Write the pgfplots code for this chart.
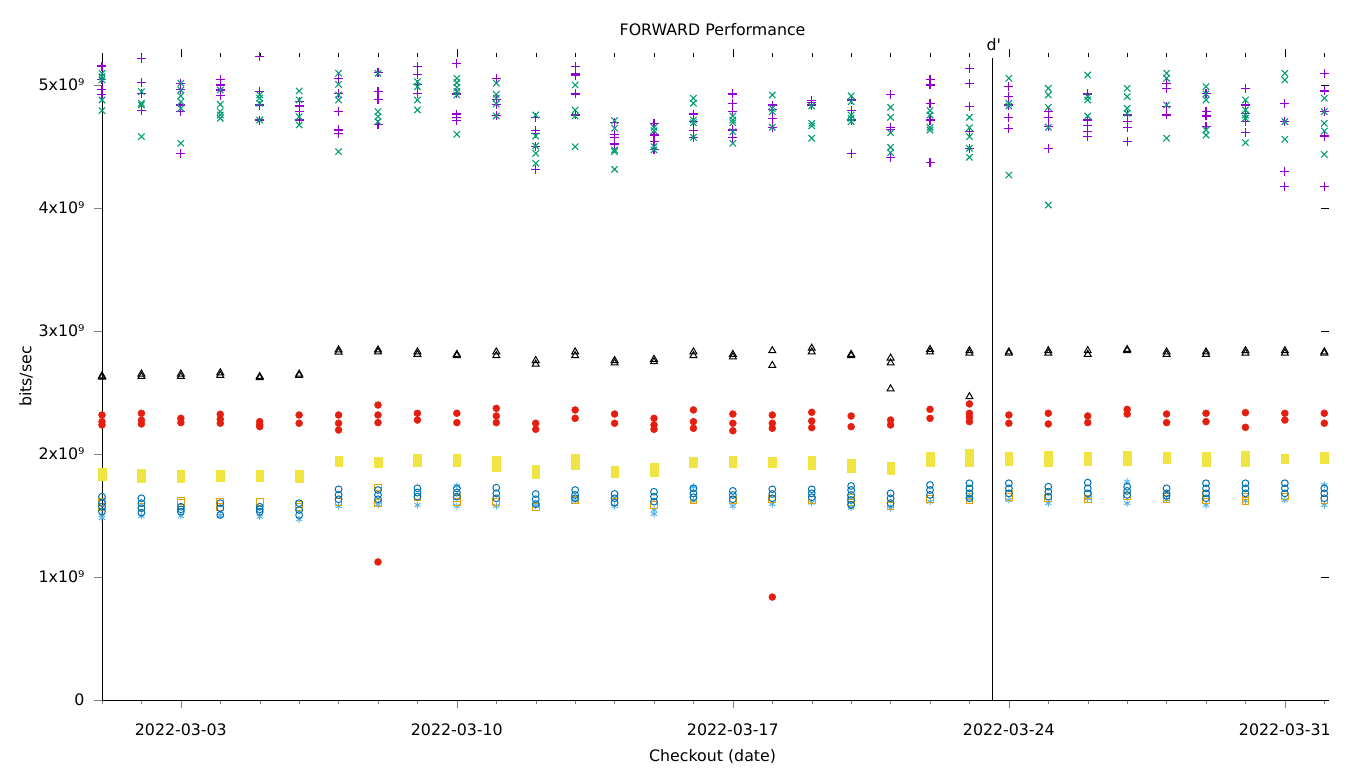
\documentclass[border=0pt]{standalone}
\usepackage{fontspec}
\setmainfont{DejaVu Sans}
\usepackage{pgfplots}
\pgfplotsset{compat=1.18}

\definecolor{gpPurple}{HTML}{9400D3}
\definecolor{gpGreen}{HTML}{009E73}
\definecolor{gpSky}{HTML}{56B4E9}
\definecolor{gpOrange}{HTML}{E69F00}
\definecolor{gpYellow}{HTML}{F0E442}
\definecolor{gpBlue}{HTML}{0072B2}
\definecolor{gpRed}{HTML}{E51E10}

\begin{document}
\begin{tikzpicture}[font=\fontsize{15.8}{19}\selectfont]
% fix the page to 1360 x 768 around the plot box
\path[use as bounding box] (-102pt,-68pt) rectangle (1258pt,700pt);
\begin{axis}[
  at={(0,0)}, anchor=south west,
  scale only axis,
  width=1227pt, height=647pt,
  xmin=1, xmax=32.12,
  ymin=0, ymax=5.26,
  axis x line*=bottom,
  axis y line*=left,
  tick pos=left,
  tick align=outside,
  major tick length=8pt,
  minor tick length=4pt,
  xtick={3,10,17,24,31},
  xticklabels={2022-03-03,2022-03-10,2022-03-17,2022-03-24,2022-03-31},
  minor xtick={1,...,32},
  ytick={0,1,2,3,4,5},
  yticklabels={0,1x10⁹,2x10⁹,3x10⁹,4x10⁹,5x10⁹},
  xticklabel style={yshift=-12pt},
  yticklabel style={xshift=-6pt},
  clip=false,
  only marks,
]

% --- purple +
\addplot[gpPurple, mark=+, mark size=4.5pt, line width=1.1pt] coordinates {
 (1,5.154) (1,5.046) (1,4.965) (1,4.919)
 (2,5.217) (2,5.019) (2,4.933) (2,4.791)
 (3,5.014) (3,4.965) (3,4.837) (3,4.783) (3,4.445)
 (4,5.046) (4,5.000) (4,4.959) (4,4.911)
 (5,5.230) (5,4.946) (5,4.837) (5,4.715)
 (6,4.864) (6,4.829) (6,4.783) (6,4.715)
 (7,5.054) (7,4.933) (7,4.783) (7,4.634) (7,4.602)
 (8,5.100) (8,4.946) (8,4.884) (8,4.675)
 (9,5.149) (9,5.087) (9,5.005) (9,4.933)
 (10,5.171) (10,4.927) (10,4.764) (10,4.737) (10,4.710)
 (11,5.054) (11,4.884) (11,4.843) (11,4.750)
 (12,4.734) (12,4.628) (12,4.607) (12,4.498) (12,4.314)
 (13,5.149) (13,5.095) (13,5.081) (13,4.927) (13,4.756)
 (14,4.693) (14,4.599) (14,4.572) (14,4.520)
 (15,4.688) (15,4.593) (15,4.539) (15,4.472)
 (16,4.764) (16,4.702) (16,4.628) (16,4.575)
 (17,4.927) (17,4.846) (17,4.783) (17,4.634) (17,4.575)
 (18,4.837) (18,4.797) (18,4.729) (18,4.656)
 (19,4.873) (19,4.856) (19,4.837)
 (20,4.878) (20,4.791) (20,4.715) (20,4.445)
 (21,4.919) (21,4.656) (21,4.640) (21,4.412)
 (22,5.041) (22,5.000) (22,4.846) (22,4.715) (22,4.368)
 (23,5.136) (23,5.014) (23,4.824) (23,4.620) (23,4.485)
 (24,4.986) (24,4.905) (24,4.837) (24,4.737) (24,4.648)
 (25,4.783) (25,4.737) (25,4.661) (25,4.485)
 (26,4.927) (26,4.715) (26,4.667) (26,4.620) (26,4.580)
 (27,4.756) (27,4.702) (27,4.653) (27,4.539)
 (28,5.014) (28,4.973) (28,4.824) (28,4.756)
 (29,4.933) (29,4.783) (29,4.748) (29,4.661)
 (30,4.973) (30,4.837) (30,4.770) (30,4.702) (30,4.612)
 (31,4.846) (31,4.702) (31,4.295) (31,4.173)
 (32,5.095) (32,4.951) (32,4.783) (32,4.585) (32,4.173)
};

% --- green x
\addplot[gpGreen, mark=x, mark size=4.5pt, line width=1.1pt] coordinates {
 (1,5.095) (1,5.067) (1,5.041) (1,4.878) (1,4.791)
 (2,4.946) (2,4.851) (2,4.837) (2,4.580)
 (3,5.014) (3,4.959) (3,4.911) (3,4.864) (3,4.810) (3,4.526)
 (4,4.959) (4,4.843) (4,4.783) (4,4.756) (4,4.729)
 (5,4.919) (5,4.892) (5,4.851) (5,4.715)
 (6,4.951) (6,4.878) (6,4.742) (6,4.675)
 (7,5.095) (7,5.005) (7,4.919) (7,4.878) (7,4.458)
 (8,5.095) (8,4.783) (8,4.742) (8,4.702)
 (9,5.027) (9,4.986) (9,4.878) (9,4.797)
 (10,5.054) (10,5.019) (10,4.981) (10,4.946) (10,4.919) (10,4.599)
 (11,5.014) (11,4.924) (11,4.892) (11,4.846) (11,4.748)
 (12,4.756) (12,4.585) (12,4.504) (12,4.444) (12,4.363)
 (13,5.000) (13,4.797) (13,4.748) (13,4.498)
 (14,4.710) (14,4.648) (14,4.472) (14,4.458) (14,4.314)
 (15,4.656) (15,4.628) (15,4.498) (15,4.472)
 (16,4.892) (16,4.851) (16,4.715) (16,4.693) (16,4.575)
 (17,4.748) (17,4.715) (17,4.693) (17,4.620) (17,4.526)
 (18,4.919) (18,4.810) (18,4.783) (18,4.656)
 (19,4.829) (19,4.688) (19,4.667) (19,4.567)
 (20,4.911) (20,4.864) (20,4.756) (20,4.729) (20,4.702)
 (21,4.818) (21,4.737) (21,4.612) (21,4.493) (21,4.450)
 (22,4.791) (22,4.756) (22,4.656) (22,4.634)
 (23,4.737) (23,4.653) (23,4.580) (23,4.485) (23,4.412)
 (24,5.054) (24,4.851) (24,4.829) (24,4.268)
 (25,4.973) (25,4.919) (25,4.818) (25,4.656) (25,4.024)
 (26,5.081) (26,4.905) (26,4.878) (26,4.748)
 (27,4.973) (27,4.905) (27,4.810) (27,4.770)
 (28,5.095) (28,5.054) (28,4.837) (28,4.567)
 (29,4.986) (29,4.927) (29,4.878) (29,4.634) (29,4.593)
 (30,4.878) (30,4.797) (30,4.756) (30,4.729) (30,4.531)
 (31,5.095) (31,5.041) (31,4.702) (31,4.558)
 (32,4.892) (32,4.783) (32,4.688) (32,4.626) (32,4.436)
};

% --- black triangles
\addplot[black, mark=triangle, mark size=4pt, line width=1pt] coordinates {
 (1,2.635) (1,2.629) (1,2.625) (2,2.65) (2,2.63) (3,2.65) (3,2.63)
 (4,2.66) (4,2.64) (5,2.63) (5,2.62) (6,2.65) (6,2.64)
 (7,2.846) (7,2.829) (8,2.846) (8,2.830) (9,2.83) (9,2.81)
 (10,2.81) (10,2.80) (11,2.83) (11,2.80) (12,2.76) (12,2.73)
 (13,2.83) (13,2.80) (14,2.76) (14,2.74) (15,2.77) (15,2.75)
 (16,2.83) (16,2.80) (17,2.81) (17,2.79) (18,2.84) (18,2.72)
 (19,2.86) (19,2.83) (20,2.81) (20,2.80) (21,2.78) (21,2.74) (21,2.53)
 (22,2.85) (22,2.83) (23,2.84) (23,2.82) (23,2.466)
 (24,2.83) (24,2.82) (25,2.84) (25,2.82) (26,2.84) (26,2.81)
 (27,2.85) (27,2.84) (28,2.83) (28,2.81) (29,2.83) (29,2.81)
 (30,2.84) (30,2.82) (31,2.84) (31,2.82) (32,2.83) (32,2.82)
};

% --- red dots
\addplot[gpRed, mark=*, mark size=3.5pt, mark options={fill=gpRed}] coordinates {
 (1,2.317) (1,2.263) (1,2.236) (2,2.331) (2,2.276) (2,2.244)
 (3,2.290) (3,2.255) (4,2.323) (4,2.282) (4,2.250) (5,2.263) (5,2.240) (5,2.222)
 (6,2.317) (6,2.250) (7,2.317) (7,2.250) (7,2.195)
 (8,2.398) (8,2.317) (8,2.255) (8,1.122)
 (9,2.331) (9,2.276) (10,2.331) (10,2.255)
 (11,2.371) (11,2.309) (11,2.255) (12,2.250) (12,2.201)
 (13,2.358) (13,2.290) (14,2.325) (14,2.250)
 (15,2.290) (15,2.236) (15,2.201) (16,2.358) (16,2.263) (16,2.209)
 (17,2.325) (17,2.250) (17,2.189) (18,2.317) (18,2.250) (18,2.209) (18,0.837)
 (19,2.339) (19,2.268) (19,2.214) (20,2.309) (20,2.222)
 (21,2.276) (21,2.236) (22,2.363) (22,2.290)
 (23,2.407) (23,2.331) (23,2.300) (23,2.263)
 (24,2.317) (24,2.250) (25,2.331) (25,2.244) (26,2.309) (26,2.255)
 (27,2.363) (27,2.325) (28,2.325) (28,2.255) (29,2.331) (29,2.263)
 (30,2.336) (30,2.217) (31,2.331) (31,2.276) (32,2.331) (32,2.250)
};

% --- yellow squares
\addplot[gpYellow, mark=square*, mark size=3.8pt, mark options={fill=gpYellow}] coordinates {
 (1,1.85) (1,1.82) (2,1.846) (2,1.80) (3,1.84) (3,1.805)
 (4,1.84) (4,1.81) (5,1.84) (5,1.81) (6,1.84) (6,1.805)
 (7,1.951) (7,1.93) (8,1.945) (8,1.925) (9,1.97) (9,1.93)
 (10,1.965) (10,1.93) (11,1.95) (11,1.89) (12,1.88) (12,1.83)
 (13,1.97) (13,1.905) (14,1.87) (14,1.84) (15,1.895) (15,1.85)
 (16,1.945) (16,1.925) (17,1.95) (17,1.925) (18,1.945) (18,1.925)
 (19,1.95) (19,1.905) (20,1.93) (20,1.885) (21,1.90) (21,1.865)
 (22,1.98) (22,1.93) (23,2.01) (23,1.97) (23,1.93)
 (24,1.98) (24,1.94) (25,1.99) (25,1.935) (26,1.98) (26,1.94)
 (27,1.99) (27,1.94) (28,1.985) (28,1.96) (29,1.98) (29,1.93)
 (30,1.99) (30,1.935) (31,1.97) (31,1.96) (32,1.98) (32,1.96)
};

% --- light blue asterisks
\addplot[gpSky, mark=asterisk, mark size=3.5pt, line width=1pt] coordinates {
 (1,1.504) (1,1.48) (2,1.496) (3,1.496) (4,1.50) (5,1.49) (6,1.469)
 (7,1.577) (8,1.59) (9,1.585) (10,1.74) (10,1.577) (11,1.577)
 (12,1.58) (13,1.62) (14,1.577) (15,1.545) (15,1.512)
 (16,1.734) (16,1.62) (17,1.577) (18,1.593) (19,1.604) (20,1.564)
 (21,1.559) (22,1.612) (23,1.64) (24,1.626) (25,1.60) (26,1.64)
 (27,1.775) (27,1.60) (28,1.632) (29,1.585) (30,1.62) (31,1.626)
 (32,1.748) (32,1.585)
};

% --- orange open squares
\addplot[gpOrange, mark=square, mark size=3.3pt, line width=1pt] coordinates {
 (1,1.612) (1,1.571) (2,1.571) (3,1.62) (3,1.60) (4,1.612) (4,1.571)
 (5,1.612) (6,1.59) (6,1.571) (7,1.612) (8,1.726) (8,1.60)
 (9,1.648) (10,1.64) (10,1.612) (11,1.612) (12,1.571) (13,1.626)
 (14,1.612) (15,1.585) (16,1.626) (17,1.626) (18,1.633) (19,1.626)
 (20,1.64) (20,1.604) (21,1.577) (22,1.632) (23,1.707) (23,1.667) (23,1.626)
 (24,1.68) (24,1.648) (25,1.64) (26,1.667) (26,1.632) (27,1.659)
 (28,1.648) (28,1.632) (29,1.667) (29,1.626) (30,1.653) (30,1.62)
 (31,1.653) (32,1.626)
};

% --- blue open circles
\addplot[gpBlue, mark=o, mark size=3.4pt, line width=1pt] coordinates {
 (1,1.653) (1,1.60) (1,1.571) (1,1.531) (2,1.64) (2,1.60) (2,1.559) (2,1.523)
 (3,1.571) (3,1.55) (3,1.531) (4,1.60) (4,1.559) (4,1.504)
 (5,1.571) (5,1.55) (5,1.531) (6,1.60) (6,1.545) (6,1.504)
 (7,1.713) (7,1.667) (7,1.632) (8,1.707) (8,1.667) (8,1.632)
 (9,1.721) (9,1.686) (9,1.653) (10,1.72) (10,1.686) (10,1.653)
 (11,1.726) (11,1.68) (11,1.64) (12,1.675) (12,1.632) (12,1.593)
 (13,1.707) (13,1.667) (13,1.64) (14,1.675) (14,1.64) (14,1.604)
 (15,1.693) (15,1.653) (15,1.612) (16,1.721) (16,1.68) (16,1.648)
 (17,1.70) (17,1.667) (17,1.632) (18,1.713) (18,1.675) (18,1.64)
 (19,1.713) (19,1.68) (19,1.648)
 (20,1.74) (20,1.707) (20,1.667) (20,1.626) (20,1.585)
 (21,1.68) (21,1.64) (21,1.60) (22,1.748) (22,1.707) (22,1.667)
 (23,1.762) (23,1.721) (23,1.68) (23,1.64) (24,1.762) (24,1.721) (24,1.68)
 (25,1.734) (25,1.693) (25,1.653) (26,1.767) (26,1.721) (26,1.68)
 (27,1.734) (27,1.70) (27,1.667) (28,1.721) (28,1.68) (28,1.66)
 (29,1.762) (29,1.721) (29,1.68) (29,1.64) (30,1.762) (30,1.721) (30,1.68)
 (31,1.762) (31,1.721) (31,1.68) (32,1.721) (32,1.68) (32,1.64)
};

% mirrored ticks on top and right, as gnuplot draws them
\pgfplotsinvokeforeach{1,...,32}{\draw (axis cs:#1,5.26) -- ++(0pt,-4pt);}
\pgfplotsinvokeforeach{3,10,17,24,31}{\draw (axis cs:#1,5.26) ++(0pt,4pt) -- ++(0pt,-8pt);}
\pgfplotsinvokeforeach{1,2,3,4,5}{\draw (axis cs:32.12,#1) -- ++(-8pt,0pt);}

% d' marker line
\draw (axis cs:23.57,0) -- (axis cs:23.57,5.22);
\node[anchor=base, inner sep=0pt] at ([yshift=2pt]axis cs:23.62,5.26) {d\textquotesingle};

% title and axis labels
\node[anchor=base, inner sep=0pt] at ([yshift=17pt]rel axis cs:0.4976,1) {FORWARD Performance};
\node[anchor=base, inner sep=0pt] at ([yshift=-61pt]rel axis cs:0.4976,0) {Checkout (date)};
\node[rotate=90, inner sep=0pt] at ([xshift=-76pt]rel axis cs:0,0.5) {bits/sec};
\end{axis}
\end{tikzpicture}
\end{document}
